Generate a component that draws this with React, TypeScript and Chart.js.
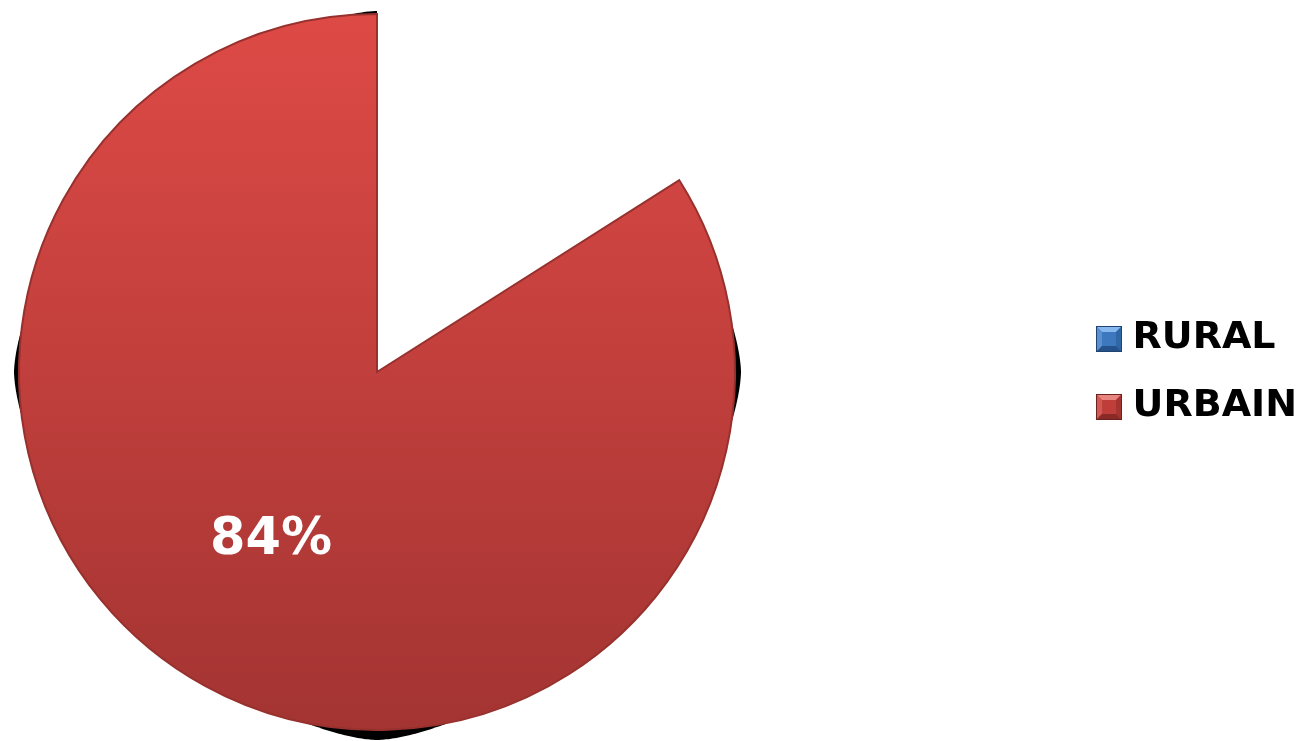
import React, { useEffect, useRef } from "react";
import { Chart, registerables } from "chart.js";

Chart.register(...registerables);

// ---- data ----
const categories = ["RURAL", "URBAIN"];
const shares = [16, 84];
const valueLabels = ["16%", "84%"];
const sliceVisible = [false, true];

// ---- styles ----
const CANVAS_W = 1307;
const CANVAS_H = 741;
const PAD = { left: 18, top: 13, bottom: 10, right: 0 };
const FONT = '"DejaVu Sans", Verdana, sans-serif';

const urbanTop = "#de4a46";
const urbanBottom = "#a33432";
const urbanBorder = "#97312e";

const legendSwatches = [
  { base: "#3d77bd", light: "#86b7ee", left: "#5a90d2", right: "#2f66a6", dark: "#25528a", border: "#1f4470" },
  { base: "#c03e3a", light: "#e88581", left: "#d25a55", right: "#a5332f", dark: "#8a2a27", border: "#6e2220" },
];

const squareAreaPlugin = {
  id: "squareArea",
  afterLayout(chart: any) {
    const a = chart.chartArea;
    const size = a.bottom - a.top;
    a.left = PAD.left;
    a.right = a.left + size;
    a.width = size;
  },
};

const shadowPlugin = {
  id: "pieShadow",
  beforeDatasetsDraw(chart: any) {
    const meta = chart.getDatasetMeta(0);
    const ctx = chart.ctx as CanvasRenderingContext2D;
    meta.data.forEach((arc: any, i: number) => {
      if (!sliceVisible[i]) return;
      const { x, y, outerRadius: r, startAngle, endAngle } = arc.getProps(
        ["x", "y", "outerRadius", "startAngle", "endAngle"],
        true
      );
      ctx.save();
      ctx.beginPath();
      ctx.moveTo(x, y);
      ctx.arc(x, y, r + 30, startAngle, endAngle);
      ctx.closePath();
      ctx.clip();
      const n = 1.6;
      const aL = r + 5, aR = r + 6, bT = r + 3, bB = r + 10;
      ctx.beginPath();
      for (let k = 0; k <= 720; k++) {
        const t = (k / 720) * Math.PI * 2;
        const c = Math.cos(t), s = Math.sin(t);
        const px = x + (c >= 0 ? aR : aL) * Math.sign(c) * Math.pow(Math.abs(c), 2 / n);
        const py = y + (s >= 0 ? bB : bT) * Math.sign(s) * Math.pow(Math.abs(s), 2 / n);
        if (k === 0) ctx.moveTo(px, py);
        else ctx.lineTo(px, py);
      }
      ctx.closePath();
      ctx.fillStyle = "#000";
      ctx.fill();
      ctx.restore();
    });
  },
};

const valueLabelPlugin = {
  id: "valueLabels",
  afterDatasetsDraw(chart: any) {
    const meta = chart.getDatasetMeta(0);
    const ctx = chart.ctx as CanvasRenderingContext2D;
    meta.data.forEach((arc: any, i: number) => {
      if (!sliceVisible[i]) return;
      const { x, y, outerRadius: r, startAngle, endAngle } = arc.getProps(
        ["x", "y", "outerRadius", "startAngle", "endAngle"],
        true
      );
      const mid = (startAngle + endAngle) / 2;
      const px = x + Math.cos(mid) * r * 0.55;
      const py = y + Math.sin(mid) * r * 0.55;
      ctx.save();
      ctx.font = `bold 51px ${FONT}`;
      ctx.fillStyle = "#ffffff";
      ctx.textAlign = "center";
      ctx.textBaseline = "middle";
      ctx.fillText(valueLabels[i], px - 11, py - 4);
      ctx.restore();
    });
  },
};

function poly(ctx: CanvasRenderingContext2D, pts: number[][], fill: string) {
  ctx.beginPath();
  ctx.moveTo(pts[0][0], pts[0][1]);
  for (let i = 1; i < pts.length; i++) ctx.lineTo(pts[i][0], pts[i][1]);
  ctx.closePath();
  ctx.fillStyle = fill;
  ctx.fill();
}

const legendBoxPlugin = {
  id: "legendBoxes",
  afterDraw(chart: any) {
    const legend = chart.legend;
    if (!legend || !legend.legendHitBoxes) return;
    const ctx = chart.ctx as CanvasRenderingContext2D;
    const s = 26;
    legend.legendHitBoxes.forEach((hb: any, i: number) => {
      const c = legendSwatches[i];
      const x = Math.round(hb.left);
      const y = Math.round(hb.top + hb.height / 2 - s / 2 + 1);
      const ins = 6;
      ctx.save();
      ctx.fillStyle = c.base;
      ctx.fillRect(x, y, s, s);
      poly(ctx, [[x, y], [x + s, y], [x + s - ins, y + ins], [x + ins, y + ins]], c.light);
      poly(ctx, [[x, y], [x + ins, y + ins], [x + ins, y + s - ins], [x, y + s]], c.left);
      poly(ctx, [[x + s, y], [x + s, y + s], [x + s - ins, y + s - ins], [x + s - ins, y + ins]], c.right);
      poly(ctx, [[x, y + s], [x + ins, y + s - ins], [x + s - ins, y + s - ins], [x + s, y + s]], c.dark);
      ctx.strokeStyle = c.border;
      ctx.lineWidth = 1;
      ctx.strokeRect(x + 0.5, y + 0.5, s - 1, s - 1);
      ctx.restore();
    });
  },
};

export default function App() {
  const canvasRef = useRef<HTMLCanvasElement | null>(null);

  useEffect(() => {
    if (!canvasRef.current) return;
    const chart = new Chart(canvasRef.current, {
      type: "pie",
      data: {
        labels: categories,
        datasets: [
          {
            data: shares,
            backgroundColor: (c: any) => {
              if (!sliceVisible[c.dataIndex]) return "rgba(0,0,0,0)";
              const area = c.chart.chartArea;
              if (!area) return urbanTop;
              const g = c.chart.ctx.createLinearGradient(0, area.top, 0, area.bottom);
              g.addColorStop(0, urbanTop);
              g.addColorStop(1, urbanBottom);
              return g;
            },
            borderColor: sliceVisible.map((v) => (v ? urbanBorder : "rgba(0,0,0,0)")),
            borderWidth: sliceVisible.map((v) => (v ? 2 : 0)),
            borderJoinStyle: "miter",
            clip: false,
          } as any,
        ],
      },
      options: {
        responsive: false,
        animation: false,
        layout: { padding: PAD },
        plugins: {
          tooltip: { enabled: false },
          legend: {
            position: "right",
            align: "center",
            labels: {
              boxWidth: 18,
              boxHeight: 26,
              padding: 30,
              color: "#000",
              font: { family: FONT, size: 38, weight: "bold" },
              generateLabels: () =>
                categories.map((text, i) => ({
                  text,
                  fillStyle: "rgba(0,0,0,0)",
                  strokeStyle: "rgba(0,0,0,0)",
                  lineWidth: 0,
                  hidden: false,
                  index: i,
                  fontColor: "#000",
                })),
            },
          },
        },
      },
      plugins: [squareAreaPlugin, shadowPlugin, valueLabelPlugin, legendBoxPlugin],
    });
    return () => chart.destroy();
  }, []);

  return (
    <div style={{ position: "absolute", left: 0, top: 0, width: 1299, height: 741, overflow: "hidden", background: "#fff" }}>
      <canvas ref={canvasRef} width={CANVAS_W} height={CANVAS_H} style={{ display: "block" }} />
    </div>
  );
}
